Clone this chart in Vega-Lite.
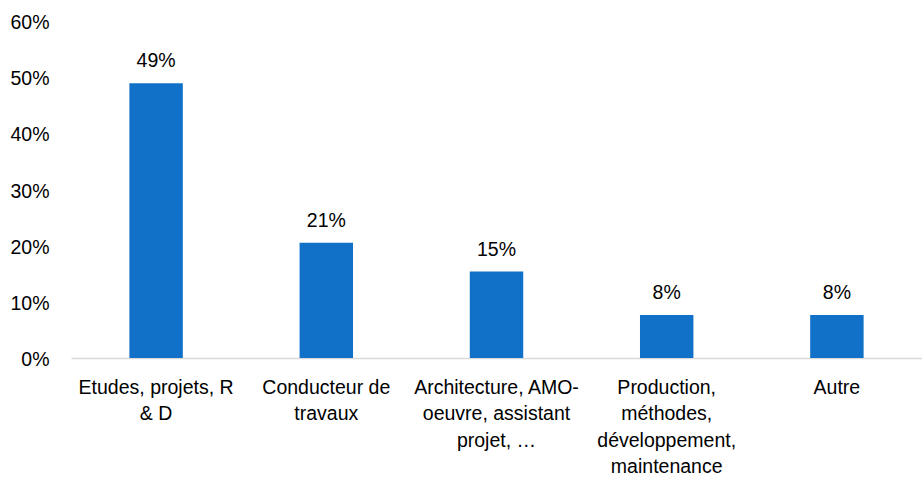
{
  "$schema": "https://vega.github.io/schema/vega-lite/v6.json",
  "autosize": {"type": "none"},
  "width": 851,
  "height": 337,
  "padding": {"left": 71, "top": 21, "right": 0, "bottom": 122},
  "background": "white",
  "config": {
    "view": {"stroke": null},
    "font": "Liberation Sans",
    "axis": {"labelFont": "Liberation Sans", "labelFontSize": 19.5, "labelColor": "#000000"}
  },
  "data": {
    "values": [
      {"cat": "Etudes, projets, R|& D", "value": 0.489},
      {"cat": "Conducteur de|travaux", "value": 0.205},
      {"cat": "Architecture, AMO-|oeuvre, assistant|projet, …", "value": 0.154},
      {"cat": "Production,|méthodes,|développement,|maintenance", "value": 0.0765},
      {"cat": "Autre", "value": 0.0765}
    ]
  },
  "encoding": {
    "x": {
      "field": "cat",
      "type": "nominal",
      "sort": null,
      "scale": {"paddingInner": 0.686, "paddingOuter": 0.343},
      "axis": {
        "title": null,
        "labelAngle": 0,
        "labelExpr": "split(datum.label, '|')",
        "labelLineHeight": 26.5,
        "labelPadding": 20,
        "labelBaseline": "top",
        "ticks": false,
        "domainColor": "#d9d9d9",
        "domainWidth": 1.5,
        "labelLimit": 300
      }
    },
    "y": {
      "field": "value",
      "type": "quantitative",
      "scale": {"domain": [0, 0.6], "nice": false},
      "axis": {
        "title": null,
        "values": [0, 0.1, 0.2, 0.3, 0.4, 0.5, 0.6],
        "format": ".0%",
        "grid": false,
        "domain": false,
        "ticks": false,
        "labelPadding": 22,
        "labelOffset": 1.5
      }
    }
  },
  "layer": [
    {"mark": {"type": "bar", "color": "#1170c8"}},
    {
      "mark": {"type": "text", "baseline": "alphabetic", "dy": -16, "fontSize": 19.5, "color": "#000000"},
      "encoding": {"text": {"field": "value", "type": "quantitative", "format": ".0%"}}
    }
  ]
}
